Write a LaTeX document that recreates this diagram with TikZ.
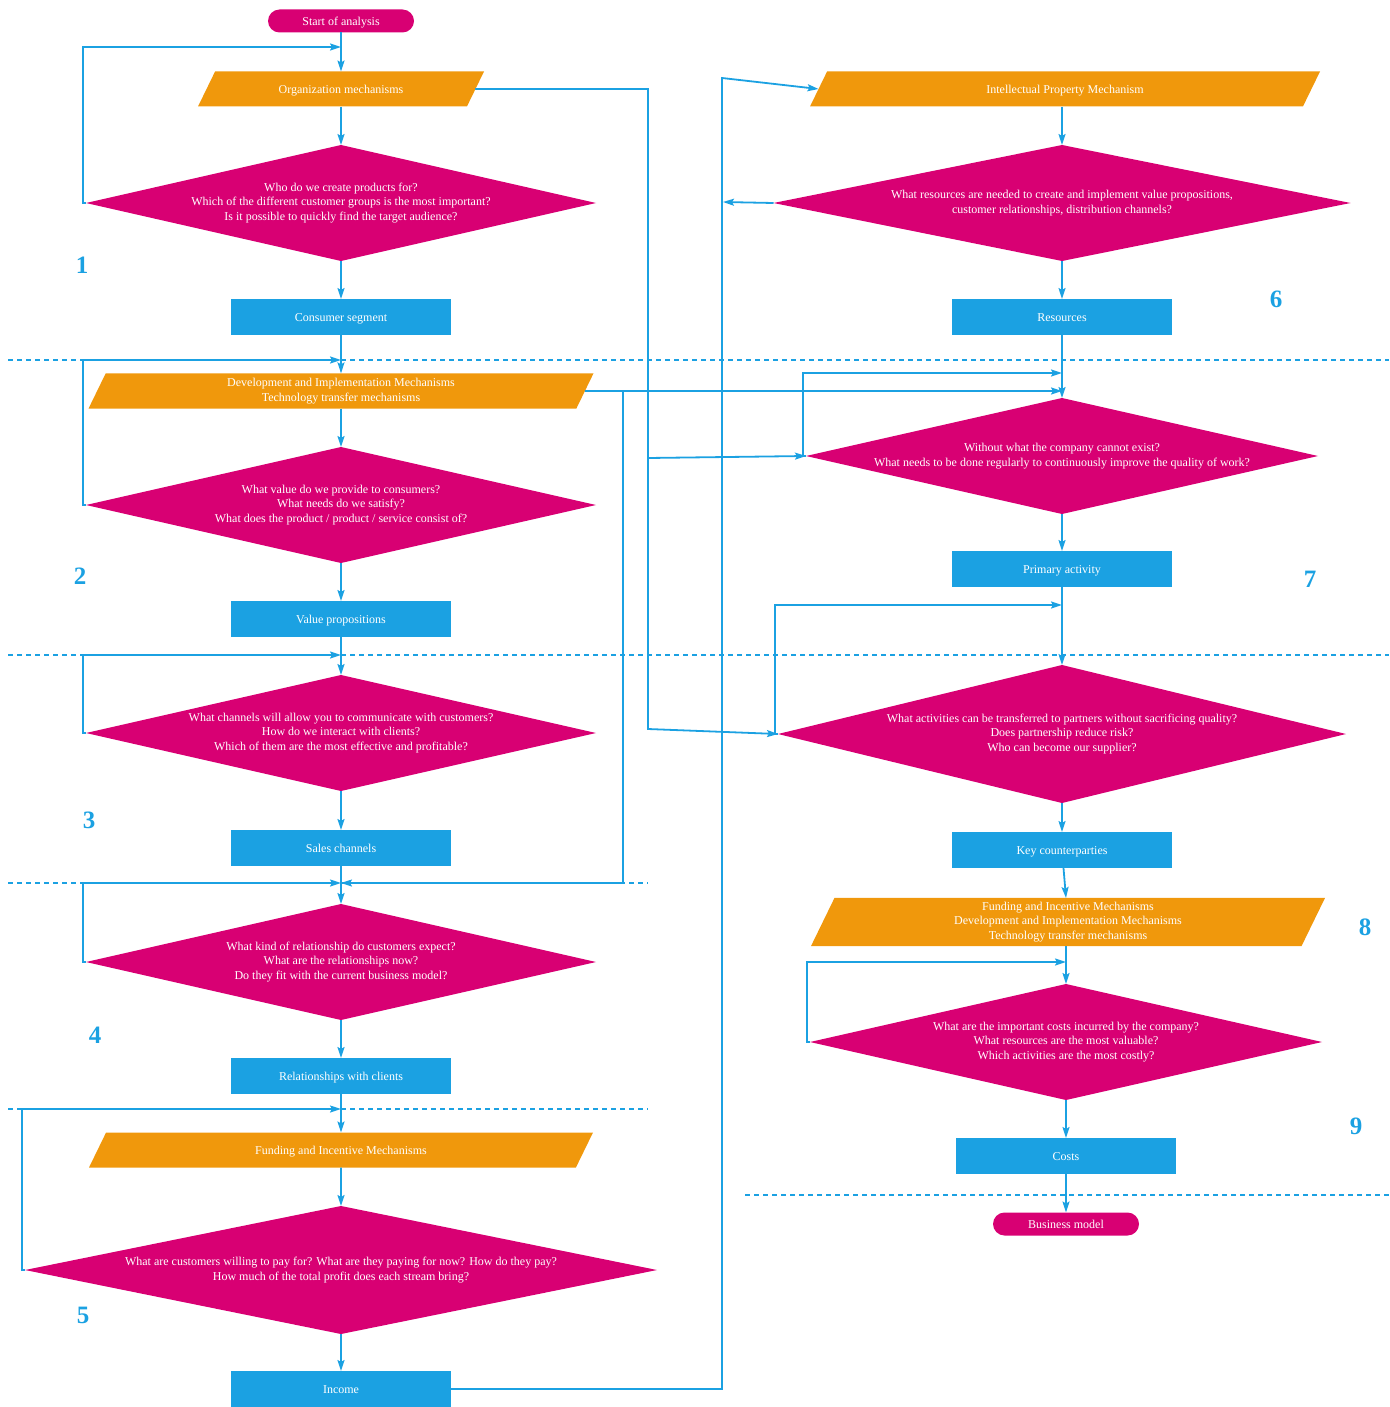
\documentclass[tikz,border=0pt]{standalone}
\usepackage{fontspec}
\setmainfont{Liberation Serif}
\usetikzlibrary{shapes.geometric,arrows.meta}
\definecolor{qmagenta}{HTML}{D80073}
\definecolor{morange}{HTML}{F0980C}
\definecolor{lblue}{HTML}{1BA1E2}
\tikzset{
	txt/.style={text=white,font=\fontsize{12}{14.5}\selectfont,align=center,inner sep=0pt,outer sep=0pt},
	oneline/.style={text height=10pt,text depth=1pt},
	question/.style={txt,diamond,fill=qmagenta,shape aspect=4.4},
	mech/.style={txt,trapezium,trapezium left angle=64,trapezium right angle=116,trapezium stretches body,fill=morange},
	onemech/.style={mech,oneline,inner ysep=12pt},
	result/.style={txt,oneline,rectangle,fill=lblue,minimum width=220pt,minimum height=36pt},
	terminal/.style={txt,oneline,rectangle,rounded corners=11.5pt,fill=qmagenta,minimum width=146pt,minimum height=23pt},
	stepnum/.style={text=lblue,font=\fontsize{25}{27}\selectfont\bfseries},
	flow/.style={draw=lblue,line width=1.8pt,-{Stealth[length=11pt,width=7pt,inset=2pt]}},
	divider/.style={draw=lblue,line width=1.8pt,dash pattern=on 5pt off 4pt}
}
\def\loopback(#1)(#2){\draw[flow] (#1.west) -- ++(-3,0) |- (#2);}

\begin{document}
\begin{tikzpicture}[x=1pt,y=-1pt]
				\useasboundingbox (0,0) rectangle (1389,1407);
				
				\draw[divider] (8,360) -- (1389,360);
				\draw[divider] (8,655) -- (1389,655);
				\draw[divider] (8,883) -- (648,883);
				\draw[divider] (8,1109) -- (648,1109);
				\draw[divider] (745,1195) -- (1389,1195);
				
				\node[terminal] (start) at (341,21) {Start of analysis};
				\node[onemech,minimum width=286pt] (orgm) at (341,89) {Organization mechanisms};
				\node[question,minimum width=510pt,minimum height=116pt] (q1) at (341,203) {Who do we create products for?\\Which of the different customer groups is the most important?\\Is it possible to quickly find the target audience?};
				\node[result] (cseg) at (341,317) {Consumer segment};
				
				\node[mech,inner ysep=4.9pt,minimum width=505pt] (devm) at (341,391) {Development and Implementation Mechanisms\\Technology transfer mechanisms};
				\node[question,minimum width=510pt,minimum height=116pt] (q2) at (341,505) {What value do we provide to consumers?\\What needs do we satisfy?\\What does the product / product / service consist of?};
				\node[result] (vprop) at (341,619) {Value propositions};
				
				\node[question,minimum width=510pt,minimum height=116pt] (q3) at (341,733) {What channels will allow you to communicate with customers?\\How do we interact with clients?\\Which of them are the most effective and profitable?};
				\node[result] (sales) at (341,848) {Sales channels};
				
				\node[question,minimum width=510pt,minimum height=116pt] (q4) at (341,962) {What kind of relationship do customers expect?\\What are the relationships now?\\Do they fit with the current business model?};
				\node[result] (rel) at (341,1076) {Relationships with clients};
				
				\node[onemech,minimum width=504pt] (fundm) at (341,1150) {Funding and Incentive Mechanisms};
				\node[question,minimum width=632pt,minimum height=128pt] (q5) at (341,1270) {What are customers willing to pay for? What are they paying for now? How do they pay?\\How much of the total profit does each stream bring?};
				\node[result] (income) at (341,1389) {Income};
				
				\node[onemech,minimum width=510pt] (ipm) at (1065,89) {Intellectual Property Mechanism};
				\node[question,minimum width=577pt,minimum height=116pt] (q6) at (1062,203) {What resources are needed to create and implement value propositions,\\customer relationships, distribution channels?};
				\node[result] (res) at (1062,317) {Resources};
				
				\node[question,minimum width=512pt,minimum height=116pt] (q7) at (1062,456) {Without what the company cannot exist?\\What needs to be done regularly to continuously improve the quality of work?};
				\node[result] (prim) at (1062,569) {Primary activity};
				
				\node[question,minimum width=568pt,minimum height=138pt] (q8) at (1062,734) {What activities can be transferred to partners without sacrificing quality?\\Does partnership reduce risk?\\Who can become our supplier?};
				\node[result] (keyc) at (1062,850) {Key counterparties};
				
				\node[mech,inner ysep=4.1pt,minimum width=514pt] (fundm2) at (1068,922) {Funding and Incentive Mechanisms\\Development and Implementation Mechanisms\\Technology transfer mechanisms};
				\node[question,minimum width=512pt,minimum height=116pt] (q9) at (1066,1042) {What are the important costs incurred by the company?\\What resources are the most valuable?\\Which activities are the most costly?};
				\node[result] (costs) at (1066,1156) {Costs};
				\node[terminal] (bmodel) at (1066,1224) {Business model};
				
				\node[stepnum] (n1) at (82,265) {1};
				\node[stepnum] (n2) at (80,576) {2};
				\node[stepnum] (n3) at (89,820) {3};
				\node[stepnum] (n4) at (95,1035) {4};
				\node[stepnum] (n5) at (83,1315) {5};
				\node[stepnum] (n6) at (1276,299) {6};
				\node[stepnum] (n7) at (1310,579) {7};
				\node[stepnum] (n8) at (1365,927) {8};
				\node[stepnum] (n9) at (1356,1126) {9};
				
				\coordinate (m1) at (341,47);
				\coordinate (m2) at (341,360);
				\coordinate (m3) at (341,655);
				\coordinate (m4) at (341,883);
				\coordinate (m5) at (341,1109);
				\coordinate (m7) at (1062,373);
				\coordinate (m7b) at (1062,391);
				\coordinate (m8) at (1062,605);
				\coordinate (m9) at (1066,962);
				\coordinate (b1) at (648,729);
				\coordinate (b2) at (648,458);
				\coordinate (b3) at (623,883);
				\coordinate (b4) at (722,78);
				\coordinate (b5) at (723,202);
				
				\draw[flow] (start) -- (orgm);
				\draw[flow] (orgm) -- (q1);
				\draw[flow] (q1) -- (cseg);
				\draw[flow] (cseg) -- (devm);
				\draw[flow] (devm) -- (q2);
				\draw[flow] (q2) -- (vprop);
				\draw[flow] (vprop) -- (q3);
				\draw[flow] (q3) -- (sales);
				\draw[flow] (sales) -- (q4);
				\draw[flow] (q4) -- (rel);
				\draw[flow] (rel) -- (fundm);
				\draw[flow] (fundm) -- (q5);
				\draw[flow] (q5) -- (income);
				
				\draw[flow] (ipm.south -| q6) -- (q6);
				\draw[flow] (q6) -- (res);
				\draw[flow] (res) -- (q7);
				\draw[flow] (q7) -- (prim);
				\draw[flow] (prim) -- (q8);
				\draw[flow] (q8) -- (keyc);
				\draw[flow] (keyc) -- (fundm2);
				\draw[flow] (fundm2.south -| q9) -- (q9);
				\draw[flow] (q9) -- (costs);
				\draw[flow] (costs) -- (bmodel);
				
				\loopback(q1)(m1)
				\loopback(q2)(m2)
				\loopback(q3)(m3)
				\loopback(q4)(m4)
				\loopback(q5)(m5)
				\loopback(q7)(m7)
				\loopback(q8)(m8)
				\loopback(q9)(m9)
				
				\draw[flow] (orgm.east) -| (b2) -- (q7.west);
				\draw[flow] (orgm.east) -| (b1) -- (q8.west);
				\draw[flow] (devm.east) -- (m7b);
				\draw[flow] (devm.east) -| (b3) -- (m4);
				\draw[flow] (income.east) -| (b4) -- (ipm.west);
				\draw[flow] (q6.west) -- (b5);
			\end{tikzpicture}
\end{document}
